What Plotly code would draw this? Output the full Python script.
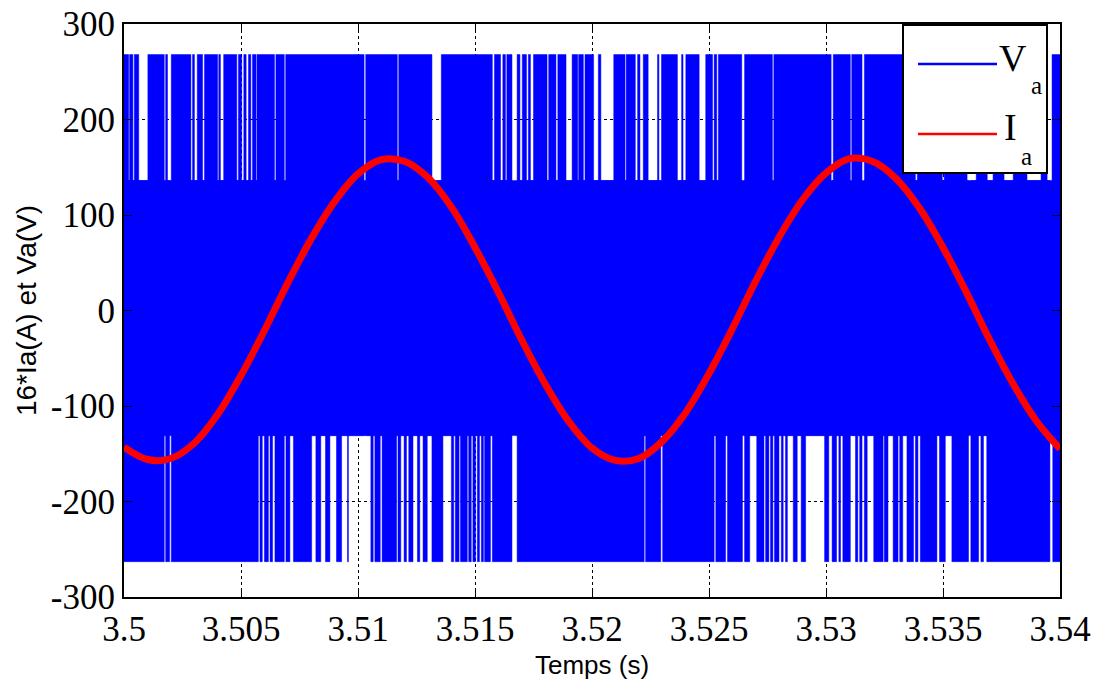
import plotly.graph_objects as go

# ---------------- data ----------------
t_range = [3.5, 3.54]

# PWM phase voltage Va: switching levels (V)
va_levels = [268, 136, -131, -263]   # top, upper-middle, lower-middle, bottom

# time intervals (s) where Va never reaches the top level (white gaps in the upper band)
va_top_gaps = [
    [3.50020, 3.50024], [3.50038, 3.50044], [3.50063, 3.50102], [3.50172, 3.50178],
    [3.50186, 3.50202], [3.50286, 3.50293], [3.50301, 3.50313], [3.50336, 3.50344],
    [3.50400, 3.50405], [3.50412, 3.50426], [3.50482, 3.50489], [3.50503, 3.50512],
    [3.50522, 3.50532], [3.50542, 3.50549], [3.50564, 3.50568], [3.50643, 3.50649],
    [3.50685, 3.50691], [3.51026, 3.51033], [3.51168, 3.51174], [3.51316, 3.51356],
    [3.51574, 3.51583], [3.51609, 3.51619], [3.51630, 3.51636], [3.51658, 3.51680],
    [3.51692, 3.51702], [3.51720, 3.51728], [3.51737, 3.51750], [3.51808, 3.51815],
    [3.51846, 3.51854], [3.51889, 3.51915], [3.51939, 3.51943], [3.51963, 3.51970],
    [3.52007, 3.52027], [3.52038, 3.52093], [3.52141, 3.52146], [3.52185, 3.52195],
    [3.52205, 3.52219], [3.52240, 3.52280], [3.52286, 3.52297], [3.52365, 3.52383],
    [3.52389, 3.52401], [3.52458, 3.52486], [3.52515, 3.52522], [3.52533, 3.52540],
    [3.52640, 3.52652], [3.52771, 3.52777], [3.53022, 3.53031], [3.53104, 3.53110],
    [3.53154, 3.53164], [3.53382, 3.53390], [3.53497, 3.53505], [3.53603, 3.53642],
    [3.53689, 3.53714], [3.53761, 3.53800], [3.53859, 3.53919], [3.53945, 3.53966],
]

# time intervals (s) where Va never reaches the bottom level (white gaps in the lower band)
va_bottom_gaps = [
    [3.50172, 3.50178], [3.50195, 3.50202], [3.50574, 3.50581], [3.50591, 3.50600],
    [3.50617, 3.50624], [3.50635, 3.50645], [3.50685, 3.50692], [3.50709, 3.50724],
    [3.50802, 3.50820], [3.50841, 3.50861], [3.50880, 3.50908], [3.50930, 3.50955],
    [3.50959, 3.51055], [3.51065, 3.51072], [3.51095, 3.51103], [3.51165, 3.51171],
    [3.51183, 3.51197], [3.51207, 3.51217], [3.51235, 3.51254], [3.51264, 3.51278],
    [3.51296, 3.51316], [3.51363, 3.51399], [3.51409, 3.51416], [3.51432, 3.51438],
    [3.51467, 3.51473], [3.51484, 3.51491], [3.51502, 3.51510], [3.51519, 3.51527],
    [3.51536, 3.51541], [3.51566, 3.51574], [3.51658, 3.51680], [3.52223, 3.52229],
    [3.52294, 3.52302], [3.52522, 3.52529], [3.52571, 3.52579], [3.52643, 3.52652],
    [3.52674, 3.52704], [3.52735, 3.52742], [3.52756, 3.52763], [3.52773, 3.52780],
    [3.52799, 3.52809], [3.52817, 3.52827], [3.52835, 3.52860], [3.52877, 3.52894],
    [3.52913, 3.52994], [3.53012, 3.53026], [3.53045, 3.53055], [3.53062, 3.53072],
    [3.53104, 3.53126], [3.53136, 3.53144], [3.53154, 3.53164], [3.53176, 3.53204],
    [3.53244, 3.53249], [3.53265, 3.53287], [3.53308, 3.53315], [3.53328, 3.53346],
    [3.53374, 3.53382], [3.53393, 3.53403], [3.53474, 3.53485], [3.53510, 3.53538],
    [3.53609, 3.53619], [3.53652, 3.53662], [3.53673, 3.53687], [3.53957, 3.53969],
]

# current 16*Ia (A), sampled every 1 ms
t_ia = [3.500, 3.501, 3.502, 3.503, 3.504, 3.505, 3.506, 3.507, 3.508, 3.509,
        3.510, 3.511, 3.512, 3.513, 3.514, 3.515, 3.516, 3.517, 3.518, 3.519,
        3.520, 3.521, 3.522, 3.523, 3.524, 3.525, 3.526, 3.527, 3.528, 3.529,
        3.530, 3.531, 3.532, 3.533, 3.534, 3.535, 3.536, 3.537, 3.538, 3.539,
        3.540]
ia16 = [-143, -156, -155, -139, -109, -68, -21, 29, 75, 114,
        143, 158, 156, 139, 108, 66, 19, -31, -77, -116,
        -144, -157, -155, -137, -107, -66, -19, 31, 77, 116,
        144, 159, 156, 138, 107, 66, 19, -31, -77, -116,
        -145]

x_tickvals = [3.5, 3.505, 3.51, 3.515, 3.52, 3.525, 3.53, 3.535, 3.54]
x_ticktext = ["3.5", "3.505", "3.51", "3.515", "3.52", "3.525", "3.53", "3.535", "3.54"]
y_tickvals = [-300, -200, -100, 0, 100, 200, 300]
y_ticktext = ["-300", "-200", "-100", "0", "100", "200", "300"]

legend_names = ["V", "I"]
legend_subs = ["a", "a"]
legend_colors = ["#0000FF", "#FF0000"]

# ---------------- build figure ----------------
BLUE = "#0000FF"
SERIF = "Liberation Serif, Times New Roman, serif"
SANS = "Liberation Sans, Arial, sans-serif"


def band_polygons(gaps, y0, y1):
    edges = [t_range[0]]
    for a, b in gaps:
        edges += [a, b]
    edges.append(t_range[1])
    xs, ys = [], []
    for i in range(0, len(edges), 2):
        a, b = edges[i], edges[i + 1]
        xs += [a, b, b, a, a, None]
        ys += [y0, y0, y1, y1, y0, None]
    return xs, ys


# the outer bands are drawn overlapping the middle band so no seam shows
top_x, top_y = band_polygons(va_top_gaps, va_levels[2], va_levels[0])
bot_x, bot_y = band_polygons(va_bottom_gaps, va_levels[3], va_levels[1])
mid_x, mid_y = band_polygons([], va_levels[2], va_levels[1])

fig = go.Figure()
for xs, ys in [(mid_x, mid_y), (top_x, top_y), (bot_x, bot_y)]:
    fig.add_trace(go.Scatter(x=xs, y=ys, mode="lines", fill="toself",
                             fillcolor=BLUE, line=dict(color=BLUE, width=0.5),
                             showlegend=False, hoverinfo="skip"))

fig.add_trace(go.Scatter(x=t_ia, y=ia16, mode="lines", name="Ia",
                         line=dict(color="#FF0000", width=7, shape="spline"),
                         showlegend=False))

# plot area in pixels
L, R, T, B = 124, 1060, 24, 597
W, H = 1094, 684


def px(x):
    return (x - L) / (R - L)


def py(y):
    return (B - y) / (B - T)


tickfont = dict(family=SERIF, size=35, color="black")
axis_common = dict(showline=True, linecolor="black", linewidth=2, mirror="ticks",
                   ticks="inside", ticklen=8, tickwidth=1, tickcolor="black",
                   showgrid=True, gridcolor="black", gridwidth=1, griddash="3px,3px",
                   zeroline=False, tickfont=tickfont, automargin=False)

fig.update_xaxes(range=t_range, tickmode="array", tickvals=x_tickvals, ticktext=x_ticktext,
                 title=dict(text="Temps (s)", font=dict(family=SANS, size=26, color="black"),
                            standoff=8),
                 **axis_common)
fig.update_yaxes(range=[-300, 300], tickmode="array", tickvals=y_tickvals, ticktext=y_ticktext,
                 title=dict(text="16*Ia(A) et Va(V)", font=dict(family=SANS, size=28, color="black"),
                            standoff=6),
                 **axis_common)

# custom legend box (MATLAB style)
shapes = [
    dict(type="rect", xref="paper", yref="paper", x0=px(903), x1=px(1047), y0=py(173), y1=py(25),
         line=dict(color="black", width=2), fillcolor="white", layer="above"),
]
annotations = []
leg_line_y = [64, 134]
leg_name_right = [1028, 1018]
leg_name_y = [58, 127]
leg_sub_left = [1030, 1020]
leg_sub_y = [86, 156]
for i, (name, sub, col) in enumerate(zip(legend_names, legend_subs, legend_colors)):
    shapes.append(dict(type="line", xref="paper", yref="paper", x0=px(918), x1=px(997),
                       y0=py(leg_line_y[i]), y1=py(leg_line_y[i]),
                       line=dict(color=col, width=2.5), layer="above"))
    annotations.append(dict(xref="paper", yref="paper", x=px(leg_name_right[i]), y=py(leg_name_y[i]),
                            text=name, showarrow=False, xanchor="right", yanchor="middle",
                            borderpad=0, font=dict(family=SERIF, size=38, color="black")))
    annotations.append(dict(xref="paper", yref="paper", x=px(leg_sub_left[i]), y=py(leg_sub_y[i]),
                            text=sub, showarrow=False, xanchor="left", yanchor="middle",
                            borderpad=0, font=dict(family=SERIF, size=25, color="black")))

fig.update_layout(width=W, height=H, margin=dict(l=L, r=W - R, t=T, b=H - B),
                  font=dict(family=SERIF, color="black"),
                  paper_bgcolor="white", plot_bgcolor="white",
                  shapes=shapes, annotations=annotations, showlegend=False)

fig.write_html("out.html")
